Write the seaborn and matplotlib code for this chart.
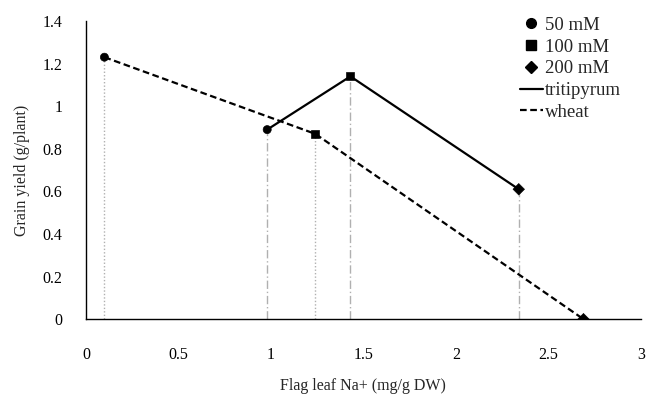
import matplotlib
matplotlib.use("Agg")
import matplotlib.pyplot as plt
from matplotlib.lines import Line2D
import seaborn as sns
import pandas as pd

# Data
salt_levels = ["50 mM", "100 mM", "200 mM"]
wheat_na = [0.10, 1.24, 2.69]
wheat_yield = [1.23, 0.87, 0.00]
trit_na = [0.98, 1.43, 2.34]
trit_yield = [0.89, 1.14, 0.61]
x_ticks = [0, 0.5, 1, 1.5, 2, 2.5, 3]
x_tick_labels = ["0", "0.5", "1", "1.5", "2", "2.5", "3"]
y_ticks = [0, 0.2, 0.4, 0.6, 0.8, 1.0, 1.2, 1.4]
y_tick_labels = ["0", "0.2", "0.4", "0.6", "0.8", "1", "1.2", "1.4"]

df = pd.DataFrame({
    "na": trit_na + wheat_na,
    "yield": trit_yield + wheat_yield,
    "genotype": ["tritipyrum"] * 3 + ["wheat"] * 3,
    "salt": salt_levels * 2,
})

sns.set_style("white")
plt.rcParams["font.family"] = ["Liberation Serif", "DejaVu Serif"]

fig = plt.figure(figsize=(6.46, 3.96), dpi=100)
ax = fig.add_axes([0.133, 0.194, 0.859, 0.753])

# drop lines
ax.vlines(wheat_na, 0, wheat_yield, colors="#b0b0b0", linestyles=(0, (1, 1.5)), linewidth=1.0, zorder=1)
ax.vlines(trit_na, 0, trit_yield, colors="#b0b0b0", linestyles=(0, (6, 2, 1, 2)), linewidth=1.0, zorder=1)

sns.lineplot(data=df, x="na", y="yield", hue="genotype", style="genotype",
             palette={"tritipyrum": "black", "wheat": "black"},
             dashes={"tritipyrum": "", "wheat": (3, 1.6)},
             linewidth=1.6, sort=False, legend=False, ax=ax, zorder=2)
sns.scatterplot(data=df, x="na", y="yield", style="salt",
                markers={"50 mM": "o", "100 mM": "s", "200 mM": "D"},
                color="black", s=34, edgecolor="black", legend=False, ax=ax, zorder=3)

ax.set_xlim(0, 3)
ax.set_ylim(0, 1.4)
ax.set_xticks(x_ticks)
ax.set_xticklabels(x_tick_labels)
ax.set_yticks(y_ticks)
ax.set_yticklabels(y_tick_labels)
ax.tick_params(axis="both", direction="out", length=5, width=1, colors="black", labelsize=11.5)
ax.tick_params(axis="x", pad=15)
ax.tick_params(axis="y", pad=12)
for s in ["top", "right"]:
    ax.spines[s].set_visible(False)
for s in ["left", "bottom"]:
    ax.spines[s].set_color("black")
    ax.spines[s].set_linewidth(1)
ax.set_xlabel("Flag leaf Na+ (mg/g DW)", fontsize=11.5, labelpad=11)
ax.set_ylabel("Grain yield (g/plant)", fontsize=11.5, labelpad=9)

handles = [
    Line2D([], [], marker="o", color="black", linestyle="none", markersize=7),
    Line2D([], [], marker="s", color="black", linestyle="none", markersize=7),
    Line2D([], [], marker="D", color="black", linestyle="none", markersize=6),
    Line2D([], [], color="black", linestyle="-", linewidth=1.6),
    Line2D([], [], color="black", linestyle=(0, (3, 1.6)), linewidth=1.6),
]
labels = salt_levels + ["tritipyrum", "wheat"]
fig.legend(handles, labels, loc="upper left", bbox_to_anchor=(0.805, 0.958),
           frameon=False, fontsize=13.5, handlelength=1.2, handletextpad=0.15,
           labelspacing=0.25, borderaxespad=0, borderpad=0)

fig.savefig("out.png", dpi=100)
